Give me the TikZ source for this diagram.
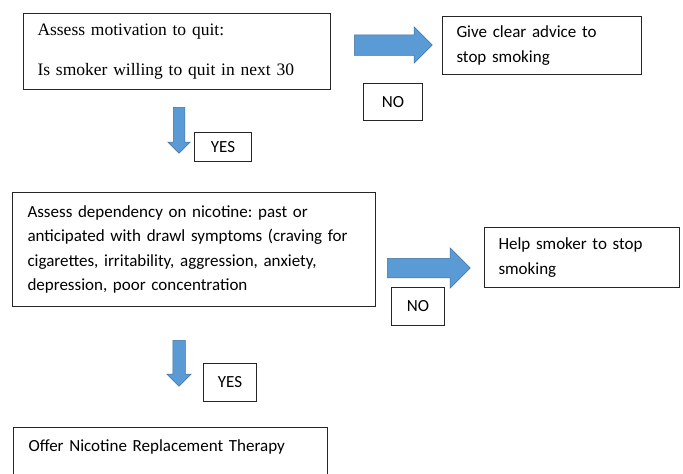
\documentclass[tikz,border=0pt]{standalone}
\usepackage{fontspec}
\setmainfont{Carlito}
\newfontfamily\cambriafont{Liberation Serif}
\usetikzlibrary{shapes.arrows}
\definecolor{arrowblue}{RGB}{91,155,213}
\definecolor{arrowedge}{RGB}{65,113,156}
\frenchspacing
\tikzset{
  box/.style={draw=black!85, line width=1pt, anchor=north west, align=left, inner ysep=0pt, font=\fontsize{17}{24.5}\selectfont},
  answer/.style={draw=black!85, line width=1pt, anchor=north west, inner sep=0pt, font=\fontsize{17}{20}\selectfont},
  blockarrow/.style={single arrow, fill=arrowblue, draw=arrowedge, line width=0.5pt, single arrow head indent=0pt, anchor=tail}
}

\begin{document}
\begin{tikzpicture}[x=1pt,y=-1pt]
\useasboundingbox (0,0) rectangle (683,474);
% first question
\node[box, font=\cambriafont\fontsize{17.5}{20}\selectfont, minimum width=307, minimum height=76, text width=279, inner xsep=14] (motiv) at (23,13)
    {Assess motivation to quit:\\[20pt] Is smoker willing to quit in next 30};
\node[box, minimum width=199, minimum height=58, text width=171, inner xsep=14] (advice) at (442,16)
    {Give clear advice to\\ stop smoking};
\node[blockarrow, minimum height=78, inner sep=10, single arrow head extend=8] (arrowa) at (354,45) {};
\node[answer, minimum width=59, minimum height=37] (noa) at (363,83) {NO};
\node[blockarrow, shape border rotate=270, minimum height=46, inner sep=5.5, single arrow head extend=5.5] (arrowb) at (179,107) {};
\node[answer, minimum width=57, minimum height=29] (yesa) at (194,132) {YES};

% second question
\node[box, minimum width=363, minimum height=114, text width=333, inner xsep=15] (depend) at (12,192)
    {Assess dependency on nicotine: past or\\ anticipated with drawl symptoms (craving for\\ cigarettes, irritability, aggression, anxiety,\\ depression, poor concentration};
\node[box, minimum width=195, minimum height=60, text width=167, inner xsep=14] (help) at (484,227)
    {Help smoker to stop\\ smoking};
\node[blockarrow, minimum height=83, inner sep=9.5, single arrow head extend=10.5] (arrowc) at (387,268) {};
\node[answer, minimum width=53, minimum height=38] (nob) at (391,287) {NO};
\node[blockarrow, shape border rotate=270, minimum height=46, inner sep=6, single arrow head extend=6] (arrowd) at (179,340) {};
\node[answer, minimum width=53, minimum height=38] (yesb) at (203,363) {YES};

% outcome
\node[box, minimum width=314, text width=284, inner xsep=15, inner ysep=12, text height=12pt, text depth=50pt] (nrt) at (13,427)
    {Offer Nicotine Replacement Therapy};
\end{tikzpicture}
\end{document}
